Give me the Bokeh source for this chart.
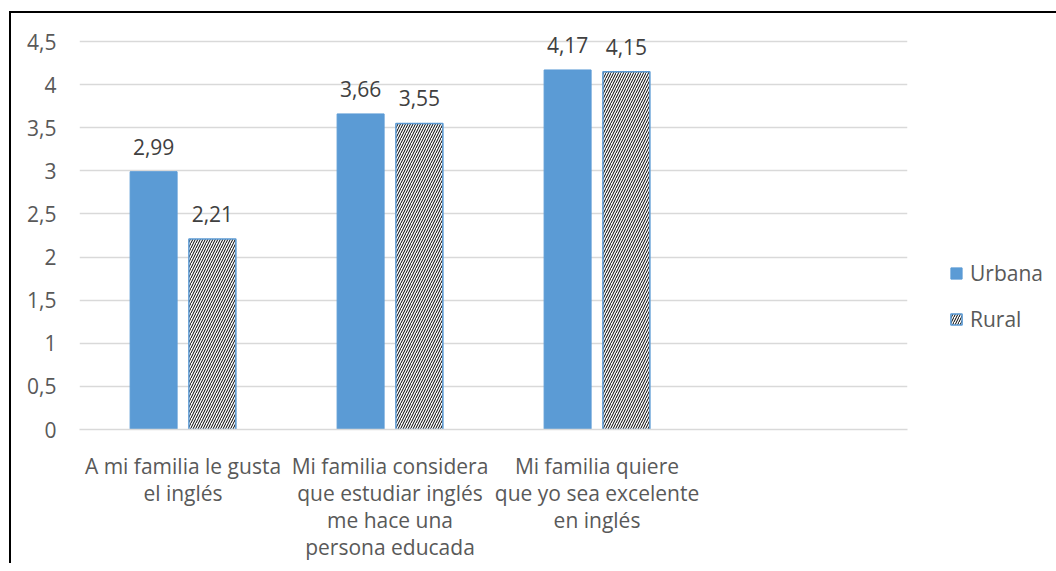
from bokeh.plotting import figure
from bokeh.models import ColumnDataSource, FactorRange, Legend, LegendItem, FixedTicker, LabelSet
from bokeh.transform import dodge
from bokeh.core.properties import value
from bokeh.embed import file_html
from bokeh.resources import INLINE

categories = [
    "A mi familia le gusta\nel inglés",
    "Mi familia considera\nque estudiar inglés\nme hace una\npersona educada",
    "Mi familia quiere\nque yo sea excelente\nen inglés",
]
series_names = ["Urbana", "Rural"]
urbana = [2.99, 3.66, 4.17]
rural = [2.21, 3.55, 4.15]
y_ticks = [0, 0.5, 1, 1.5, 2, 2.5, 3, 3.5, 4, 4.5]

FONT = "Open Sans"
FS = "21px"
BLUE = "#5B9BD5"
GREY_TXT = "#595959"

def fmt(v):
    return f"{v:.2f}".replace(".", ",")

src = ColumnDataSource(dict(
    cat=categories,
    urbana=urbana,
    rural=rural,
    urbana_lbl=[fmt(v) for v in urbana],
    rural_lbl=[fmt(v) for v in rural],
))

FRAME_H = 400
p = figure(
    x_range=FactorRange(factors=categories + [" "]),
    y_range=(0, 4.5 * FRAME_H / 388),
    frame_width=828, frame_height=FRAME_H,
    output_backend="svg", toolbar_location=None,
    min_border_left=68, min_border_right=139,
    min_border_top=16, min_border_bottom=132,
)
p.styles = {"border-left": "2px solid #000", "border-top": "2px solid #000",
            "margin-left": "9px", "margin-top": "11px"}
p.outline_line_color = None
p.background_fill_color = "white"
p.border_fill_color = "white"

bw = 0.227
r_u = p.vbar(x=dodge("cat", -0.142, range=p.x_range), top="urbana", width=bw,
             source=src, fill_color=BLUE, line_color=BLUE, line_width=1)
r_r = p.vbar(x=dodge("cat", 0.142, range=p.x_range), top="rural", width=bw,
             source=src, fill_color="white", line_color=BLUE, line_width=1.5,
             hatch_pattern="/", hatch_color="black", hatch_scale=5, hatch_weight=1)

for col, off in (("urbana", -0.142), ("rural", 0.142)):
    lbl = LabelSet(x=dodge("cat", off, range=p.x_range), y=col, text=col + "_lbl",
                   source=src, text_align="center", text_baseline="bottom",
                   y_offset=17, text_font=value(FONT), text_font_size=FS,
                   text_color="#404040")
    p.add_layout(lbl)

# axes
p.xaxis.axis_line_color = "#D9D9D9"
p.xaxis.axis_line_width = 1.5
p.xaxis.major_tick_line_color = None
p.xaxis.minor_tick_line_color = None
p.xaxis.major_label_standoff = 16
p.xaxis.major_label_text_font = FONT
p.xaxis.major_label_text_font_size = FS
p.xaxis.major_label_text_color = GREY_TXT
p.xaxis.major_label_text_line_height = 0.97

p.yaxis.axis_line_color = None
p.yaxis.major_tick_line_color = None
p.yaxis.minor_tick_line_color = None
p.yaxis.ticker = FixedTicker(ticks=y_ticks)
p.yaxis.major_label_overrides = {t: f"{t:g}".replace(".", ",") for t in y_ticks}
p.yaxis.major_label_standoff = 17
p.yaxis.major_label_text_font = FONT
p.yaxis.major_label_text_font_size = FS
p.yaxis.major_label_text_color = GREY_TXT

p.xgrid.grid_line_color = None
p.ygrid.grid_line_color = "#D9D9D9"
p.ygrid.grid_line_width = 1.5

legend = Legend(items=[LegendItem(label=series_names[0], renderers=[r_u]),
                       LegendItem(label=series_names[1], renderers=[r_r])],
                location=(42, 96), orientation="vertical")
legend.border_line_color = None
legend.background_fill_alpha = 0
legend.padding = 0
legend.margin = 0
legend.glyph_width = 14
legend.glyph_height = 14
legend.label_height = 20
legend.spacing = 18
legend.label_standoff = 7
legend.label_text_font = FONT
legend.label_text_font_size = FS
legend.label_text_color = GREY_TXT
p.add_layout(legend, "right")

open("out.html", "w").write(file_html(p, INLINE))
